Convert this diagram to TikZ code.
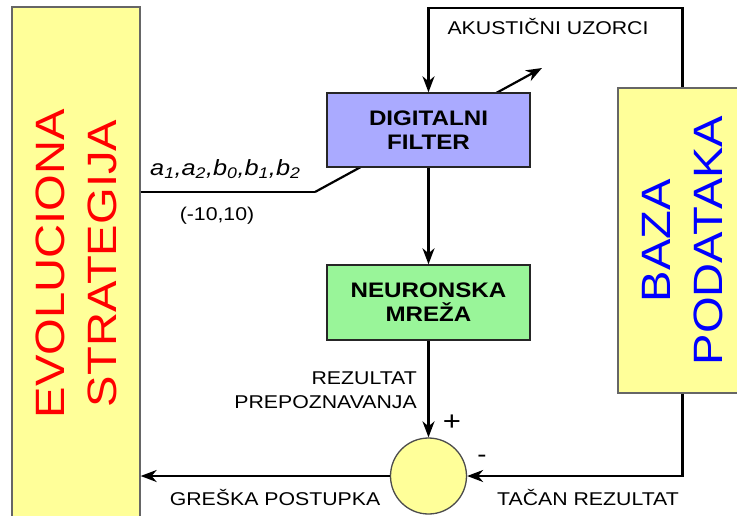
\documentclass[tikz,border=0pt]{standalone}
\usepackage{fontspec}
\setmainfont[FakeStretch=1.15]{Liberation Sans}
\usetikzlibrary{arrows.meta}
\definecolor{byel}{HTML}{FFFF99}
\definecolor{fblue}{HTML}{AAAAFF}
\definecolor{ngreen}{HTML}{99F599}
\begin{document}
\begin{tikzpicture}[x=1pt,y=-1pt,
  arr/.style={line width=2.2pt, -{Stealth[length=16pt,width=12pt,inset=5pt]}},
  ln/.style={line width=2.2pt},
  bar/.style={draw=black!60, line width=1.3pt, fill=byel, inner sep=0},
  box/.style={draw=black!85, line width=1.4pt, minimum width=203, minimum height=74, align=center, font=\fontsize{21}{24}\selectfont\bfseries},
  lbl/.style={font=\fontsize{18.5}{24}\selectfont, inner sep=0},
  big/.style={font=\fontsize{41}{52}\selectfont, rotate=90, align=center, inner sep=0}]
\useasboundingbox (0,0) rectangle (737,515);
\clip (0,0) rectangle (737,515);
\node[bar, minimum width=128, minimum height=513] (evo) at (76,263.5) {};
\node[big, text=red] (evotxt) at (evo.center) {EVOLUCIONA\\STRATEGIJA};
\node[bar, minimum width=129, minimum height=305] (baza) at (682.5,240.5) {};
\node[big, text=blue] (bazatxt) at (baza.center) {BAZA\\PODATAKA};
\coordinate (pk) at (315,192);
\coordinate (pend) at (542,68);
\draw[ln] (evo.east |- pk) -- (pk);
\draw[arr] (pk) -- (pend);
\node[box, fill=fblue] (filt) at (428.5,130) {DIGITALNI\\FILTER};
\node[box, fill=ngreen, minimum height=75] (nn) at (428.5,302.5) {NEURONSKA\\MREŽA};
\node[circle, draw=black!70, line width=1.3pt, fill=byel, minimum size=76, inner sep=0] (sum) at (428.5,476) {};
\coordinate (ltop) at (683,8);
\draw[arr] (baza.north) -- (baza.north |- ltop) -| (filt.north);
\draw[arr] (filt) -- (nn);
\draw[arr] (nn) -- (sum);
\draw[arr] (baza.south) |- (sum.east);
\draw[arr] (sum.west) -- (sum.west -| evo.east);
\node[lbl] (ak) at (548,27) {AKUSTIČNI UZORCI};
\node[lbl, anchor=base west, font=\fontsize{22}{26}\selectfont\itshape] (par) at (150,175) {a\textsubscript{1},a\textsubscript{2},b\textsubscript{0},b\textsubscript{1},b\textsubscript{2}};
\node[lbl] (range) at (217,216) {(-10,10)};
\node[lbl, align=right, anchor=east] (rez) at (417,390) {REZULTAT\\PREPOZNAVANJA};
\node[lbl, font=\fontsize{27}{28}\selectfont] (plus) at (452,423) {+};
\node[lbl, font=\fontsize{24}{24}\selectfont] (minus) at (482,459) {-};
\node[lbl] (gr) at (275,497) {GREŠKA POSTUPKA};
\node[lbl] (tc) at (588,497) {TAČAN REZULTAT};
\end{tikzpicture}
\end{document}
